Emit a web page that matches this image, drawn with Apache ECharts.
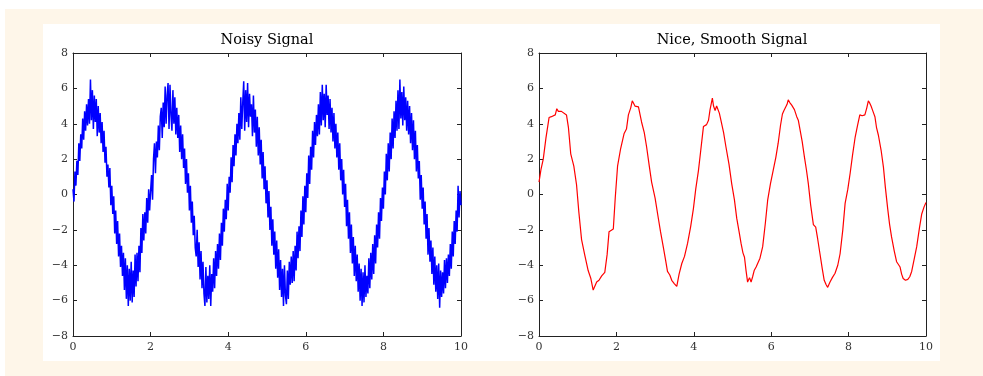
<!DOCTYPE html>
<html>
<head>
<meta charset="utf-8">
<script src="https://cdn.jsdelivr.net/npm/echarts@6/dist/echarts.min.js"></script>
<style>
  html, body { margin: 0; padding: 0; background: #fff; }
  #main { width: 983px; height: 376px; }
</style>
</head>
<body>
<div id="main"></div>
<script>
// noisy samples, evenly spaced over 0..10
var noisy = [
  0.3, -0.4, 1.3, 0.5, 1.9, 1.1, 2.9, 1.9, 3.4, 2.6,
  4.3, 3.1, 4.7, 3.6, 5.1, 3.9, 5.4, 4.0, 6.5, 4.2,
  5.9, 3.7, 5.6, 4.1, 5.4, 3.3, 5.0, 3.5, 4.6, 2.9,
  4.1, 2.4, 3.6, 1.8, 2.7, 1.0, 1.7, 0.4, 1.5, -0.6,
  0.5, -1.1, -0.1, -2.2, -0.9, -2.8, -1.5, -3.5, -2.2, -4.1,
  -2.9, -4.6, -3.3, -5.4, -3.6, -5.9, -4.0, -6.3, -4.2, -6.0,
  -3.8, -6.1, -4.3, -5.8, -3.4, -5.2, -3.3, -4.9, -2.9, -4.4,
  -1.9, -3.3, -1.1, -2.6, -1.0, -2.2, -0.2, -1.6, 0.3, -0.9,
  0.2, 1.1, -0.3, 2.0, 2.9, 1.2, 3.0, 2.1, 3.9, 2.5,
  4.4, 4.9, 3.2, 5.2, 3.8, 6.1, 4.0, 5.6, 6.3, 3.7,
  6.2, 4.5, 3.6, 5.9, 4.0, 5.5, 3.4, 4.9, 3.2, 4.5,
  2.4, 3.9, 2.0, 3.4, 1.5, 2.6, 0.6, 2.0, 0.1, 1.2,
  -0.9, 0.5, -1.6, -0.4, -2.3, -1.2, -3.0, -3.5, -2.0, -4.1,
  -2.7, -4.8, -3.2, -5.3, -3.8, -5.6, -6.3, -4.1, -6.1, -4.6,
  -5.9, -4.0, -6.3, -4.5, -5.5, -3.6, -5.3, -3.2, -4.6, -2.8,
  -4.2, -2.2, -3.7, -1.6, -2.9, -0.8, -2.1, -0.3, -1.4, 0.6,
  -0.9, 1.0, 0.1, 2.1, 0.7, 2.8, 1.6, 3.4, 2.2, 4.0,
  2.9, 4.6, 3.1, 5.5, 3.7, 5.2, 6.4, 3.6, 5.9, 4.1,
  6.3, 3.8, 5.7, 4.4, 5.1, 3.3, 5.6, 3.5, 4.8, 2.7,
  4.4, 2.2, 3.8, 1.7, 3.1, 0.9, 2.4, 0.3, 1.6, -0.5,
  0.8, -1.3, 0.2, -2.0, -0.7, -2.9, -1.4, -3.4, -2.1, -4.2,
  -2.6, -4.7, -3.1, -5.4, -3.7, -5.8, -4.2, -6.3, -4.0, -5.7,
  -6.2, -4.3, -5.9, -3.8, -5.1, -3.5, -5.0, -3.2, -4.9, -2.9,
  -4.3, -2.1, -3.6, -1.8, -3.2, -0.9, -2.4, -0.1, -1.7, 0.5,
  -1.0, 1.2, -0.2, 2.2, 0.6, 2.7, 1.4, 3.6, 2.1, 4.1,
  2.8, 4.5, 3.3, 5.1, 3.4, 5.8, 3.9, 6.2, 4.2, 5.7,
  3.8, 6.2, 4.5, 5.6, 3.7, 5.4, 3.5, 4.9, 3.0, 4.6,
  2.6, 4.0, 2.1, 3.5, 1.4, 2.9, 0.8, 2.0, 0.0, 1.4,
  -0.7, 0.6, -1.8, -0.3, -2.5, -1.0, -3.3, -1.7, -3.9, -2.4,
  -4.6, -2.9, -4.9, -3.4, -5.5, -3.9, -6.0, -4.2, -6.3, -4.4,
  -6.1, -4.0, -5.8, -4.6, -5.6, -3.6, -5.3, -3.3, -4.8, -2.8,
  -4.5, -2.3, -3.9, -1.7, -3.0, -1.0, -2.5, -0.2, -1.5, 0.4,
  -0.8, 1.3, 0.0, 2.3, 0.8, 2.9, 1.3, 3.5, 2.0, 4.3,
  2.6, 4.7, 3.2, 5.3, 3.6, 5.9, 3.7, 6.5, 4.3, 5.8,
  3.9, 6.1, 4.2, 5.5, 3.6, 5.3, 3.4, 5.0, 2.9, 4.6,
  2.5, 4.2, 2.0, 3.6, 1.3, 2.8, 0.9, 1.9, -0.3, 1.1,
  -0.8, 0.4, -1.7, -0.4, -2.5, -1.1, -3.4, -1.9, -3.8, -2.6,
  -4.5, -3.0, -5.1, -3.5, -5.5, -4.0, -5.9, -3.9, -6.4, -4.3,
  -5.8, -4.4, -5.6, -3.7, -5.3, -3.6, -5.0, -3.4, -4.6, -2.8,
  -4.2, -2.1, -3.5, -1.5, -2.8, -0.9, -2.1, 0.5, -1.3, 0.2,
  -0.6
];

// smoothed signal
var smoothX = [
  0.00, 0.05, 0.11, 0.18, 0.26, 0.32, 0.37, 0.42, 0.46, 0.50,
  0.54, 0.58, 0.63, 0.71, 0.76, 0.82, 0.90, 0.97, 1.03, 1.10,
  1.18, 1.27, 1.34, 1.40, 1.44, 1.49, 1.55, 1.62, 1.66, 1.70,
  1.76, 1.81, 1.86, 1.92, 1.97, 2.03, 2.11, 2.20, 2.26, 2.31,
  2.37, 2.41, 2.45, 2.48, 2.52, 2.57, 2.65, 2.72, 2.78, 2.85,
  2.91, 3.00, 3.08, 3.14, 3.21, 3.27, 3.32, 3.38, 3.43, 3.50,
  3.56, 3.62, 3.69, 3.76, 3.84, 3.92, 3.99, 4.05, 4.12, 4.18,
  4.25, 4.33, 4.38, 4.42, 4.48, 4.51, 4.55, 4.59, 4.62, 4.66,
  4.70, 4.77, 4.83, 4.91, 4.98, 5.05, 5.11, 5.17, 5.22, 5.27,
  5.31, 5.35, 5.39, 5.44, 5.48, 5.52, 5.56, 5.61, 5.65, 5.71,
  5.78, 5.85, 5.91, 5.98, 6.05, 6.12, 6.18, 6.24, 6.29, 6.33,
  6.37, 6.41, 6.44, 6.48, 6.53, 6.60, 6.66, 6.70, 6.74, 6.80,
  6.86, 6.91, 6.96, 7.02, 7.09, 7.15, 7.20, 7.26, 7.32, 7.37,
  7.42, 7.46, 7.49, 7.52, 7.58, 7.65, 7.72, 7.78, 7.85, 7.91,
  7.98, 8.04, 8.10, 8.17, 8.23, 8.29, 8.35, 8.42, 8.47, 8.51,
  8.55, 8.58, 8.63, 8.68, 8.72, 8.77, 8.84, 8.90, 8.95, 9.01,
  9.06, 9.11, 9.18, 9.24, 9.29, 9.33, 9.37, 9.41, 9.47, 9.53,
  9.58, 9.63, 9.70, 9.76, 9.83, 9.89, 9.95, 10.00
];
var smoothY = [
  0.7, 1.4, 2.0, 3.2, 4.35, 4.4, 4.35, 4.5, 4.85, 4.7,
  4.6, 4.7, 4.6, 4.5, 3.8, 2.3, 1.6, 0.55, -1.0, -2.55,
  -3.4, -4.3, -4.75, -5.4, -5.3, -4.95, -4.85, -4.6, -4.7, -4.4,
  -3.4, -2.1, -2.05, -1.95, -0.2, 1.6, 2.6, 3.45, 3.7, 4.5,
  4.9, 5.3, 5.2, 5.0, 5.05, 4.95, 4.1, 3.5, 2.7, 1.6,
  0.7, -0.2, -1.3, -2.1, -2.95, -3.7, -4.35, -4.55, -4.85, -5.05,
  -5.2, -4.5, -3.9, -3.5, -2.75, -1.8, -0.8, 0.3, 1.35, 2.5,
  3.85, 3.95, 4.2, 4.8, 5.45, 5.0, 4.75, 5.0, 5.05, 4.6,
  4.2, 3.5, 2.7, 1.7, 0.6, -0.3, -1.35, -2.1, -2.75, -3.3,
  -3.55, -4.3, -4.95, -4.7, -4.95, -4.65, -4.3, -4.1, -3.9, -3.6,
  -2.95, -1.6, -0.3, 0.6, 1.35, 2.1, 2.9, 3.9, 4.55, 4.75,
  4.85, 5.1, 5.35, 5.2, 5.05, 4.8, 4.4, 4.2, 4.1, 3.0,
  2.1, 1.4, 0.6, -0.6, -1.7, -1.85, -2.5, -3.35, -4.2, -4.85,
  -5.1, -5.25, -5.35, -4.95, -4.7, -4.45, -4.0, -3.35, -2.0, -0.5,
  0.3, 1.2, 2.2, 3.25, 3.9, 4.5, 4.45, 4.5, 4.9, 5.3,
  5.15, 5.0, 4.7, 4.4, 3.8, 3.35, 2.5, 1.55, 0.4, -0.8,
  -1.7, -2.4, -3.2, -3.8, -3.9, -4.1, -4.5, -4.75, -4.85, -4.8,
  -4.65, -4.35, -3.6, -2.95, -1.9, -1.1, -0.7, -0.45
];

var titles = ['Noisy Signal', 'Nice, Smooth Signal'];

var noisyData = noisy.map(function (v, i) {
  return [i * 10 / (noisy.length - 1), v];
});
var smoothData = smoothX.map(function (x, i) {
  return [x, smoothY[i]];
});

var chart = echarts.init(document.getElementById('main'), null, { renderer: 'canvas' });

var serif = 'DejaVu Serif';
var grids = [
  { left: 73, right: 522, top: 53, bottom: 40 },
  { left: 539, right: 57, top: 53, bottom: 40 }
];

function minus(v) {
  return String(v).replace('-', '\u2212');
}

var xAxes = [], yAxes = [];
grids.forEach(function (g, gi) {
  ['bottom', 'top'].forEach(function (pos) {
    xAxes.push({
      type: 'value', gridIndex: gi, position: pos, min: 0, max: 10, interval: 2,
      axisLine: { show: true, onZero: false, lineStyle: { color: '#222', width: 1 } },
      axisTick: { show: true, inside: true, length: 4, lineStyle: { color: '#222' } },
      axisLabel: {
        show: pos === 'bottom', margin: 6, color: '#333', fontFamily: serif, fontSize: 11,
        formatter: minus
      },
      splitLine: { show: false }
    });
  });
  ['left', 'right'].forEach(function (pos) {
    yAxes.push({
      type: 'value', gridIndex: gi, position: pos, min: -8, max: 8, interval: 2,
      axisLine: { show: true, onZero: false, lineStyle: { color: '#222', width: 1 } },
      axisTick: { show: true, inside: true, length: 4, lineStyle: { color: '#222' } },
      axisLabel: {
        show: pos === 'left', margin: 5, color: '#333', fontFamily: serif, fontSize: 11,
        formatter: minus
      },
      splitLine: { show: false }
    });
  });
});

var option = {
  animation: false,
  backgroundColor: '#fff',
  graphic: [
    { type: 'rect', shape: { x: 5, y: 9, width: 990, height: 380 }, style: { fill: '#fef6e9' }, z: -10 },
    { type: 'rect', shape: { x: 43, y: 24, width: 897, height: 337 }, style: { fill: '#fff' }, z: -9 },
    {
      type: 'text', x: 267, y: 40, z: 10,
      style: { text: titles[0], textAlign: 'center', textVerticalAlign: 'middle', font: '14.5px "DejaVu Serif"', fill: '#000' }
    },
    {
      type: 'text', x: 732, y: 40, z: 10,
      style: { text: titles[1], textAlign: 'center', textVerticalAlign: 'middle', font: '14.5px "DejaVu Serif"', fill: '#000' }
    }
  ],
  grid: grids,
  xAxis: xAxes,
  yAxis: yAxes,
  series: [
    {
      name: titles[0], type: 'line', xAxisIndex: 0, yAxisIndex: 0,
      data: noisyData, showSymbol: false, smooth: false,
      lineStyle: { color: '#0000ff', width: 1.5 }
    },
    {
      name: titles[1], type: 'line', xAxisIndex: 2, yAxisIndex: 2,
      data: smoothData, showSymbol: false, smooth: false,
      lineStyle: { color: '#ff0000', width: 1.2 }
    }
  ]
};

chart.setOption(option);
</script>
</body>
</html>
